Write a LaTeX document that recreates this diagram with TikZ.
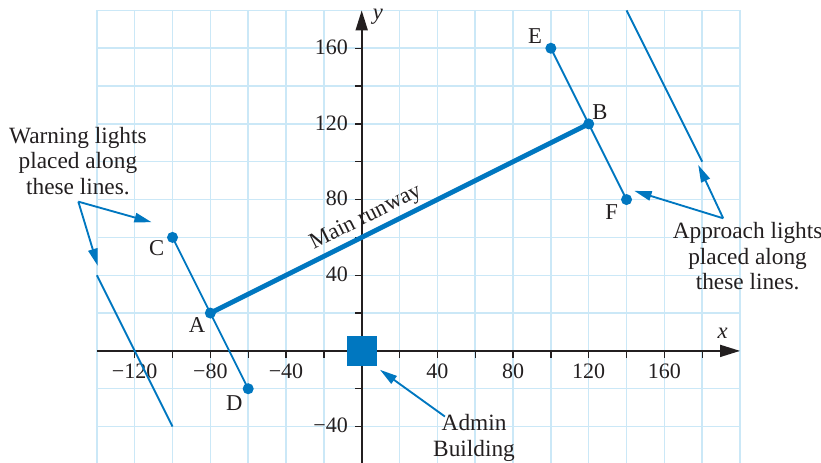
\documentclass[tikz,border=0pt]{standalone}
\usepackage{fontspec}
\setmainfont{Liberation Serif}
\usetikzlibrary{arrows.meta}
\definecolor{gridblue}{HTML}{CBE8F7}
\definecolor{mblue}{HTML}{0077C0}
\definecolor{ink}{HTML}{231F20}
\begin{document}
\begin{tikzpicture}[x=1.419pt,y=1.419pt,
  gridline/.style={draw=gridblue,line width=1.1pt},
  axisline/.style={draw=ink,line width=1.3pt,-{Triangle[length=15pt,width=9pt]}},
  tickmark/.style={draw=ink,line width=1pt},
  runway/.style={draw=mblue,line width=3.6pt},
  lightline/.style={draw=mblue,line width=1.4pt},
  callout/.style={draw=mblue,line width=1.4pt,-{Triangle[length=13pt,width=7pt]}},
  dot/.style={circle,fill=mblue,inner sep=0pt,minimum size=8.3pt},
  ptlabel/.style={font=\fontsize{17}{20}\selectfont,text=ink,inner sep=0pt},
  numlabel/.style={font=\fontsize{16.5}{19}\selectfont,text=ink,inner sep=0pt},
  note/.style={font=\fontsize{17.5}{19.2}\selectfont,align=center,text=ink,inner sep=0pt},
  adminbox/.style={fill=mblue,minimum size=22.5pt,inner sep=0pt}
]
\useasboundingbox (-191.2,-59.2) rectangle (242.8,185.5);
% grid
\foreach \x in {-140,-120,...,200} \draw[gridline] (\x,-60) -- (\x,180);
\foreach \y in {-60,-40,...,180} \draw[gridline] (-140,\y) -- (200,\y);
% axes
\draw[axisline] (-140,0) -- (200,0);
\draw[axisline] (0,-60) -- (0,180);
\foreach \x in {-120,-100,...,-20,20,40,...,180} \draw[tickmark] (\x,0) -- (\x,-3.7);
\foreach \y in {-40,-20,20,40,60,80,100,120,140,160} \draw[tickmark] (0,\y) -- (-3.7,\y);
\foreach \x/\t in {-120/−120,-80/−80,-40/−40,40/40,80/80,120/120,160/160}
  \node[numlabel] (xl\x) at (\x,-11) {\t};
\foreach \y/\t in {160/160,120/120,80/80,40/40,-40/−40}
  \node[numlabel,anchor=east] (yl\y) at (-7.2,\y+0.5) {\t};
\node[ptlabel,font=\fontsize{17}{20}\selectfont\itshape] (ylab) at (8.6,176.5) {y};
\node[ptlabel,font=\fontsize{17}{20}\selectfont\itshape] (xlab) at (190.8,9.4) {x};
% points
\coordinate (pA) at (-80,20);
\coordinate (pB) at (120,120);
\coordinate (pC) at (-100,60);
\coordinate (pD) at (-60,-20);
\coordinate (pE) at (100,160);
\coordinate (pF) at (140,80);
\coordinate (wl1) at (-140,40);
\coordinate (wl2) at (-100,-40);
\coordinate (al1) at (140,180);
\coordinate (al2) at (180,100);
% lines
\draw[lightline] (pC) -- (pD);
\draw[lightline] (pE) -- (pF);
\draw[lightline] (wl1) -- (wl2);
\draw[lightline] (al1) -- (al2);
\draw[runway] (pA) -- node[pos=0.43,sloped,above=2.5pt,ptlabel,text=ink] (rw) {Main runway} (pB);
\foreach \p in {A,B,C,D,E,F} \node[dot] (d\p) at (p\p) {};
% point labels
\node[ptlabel] (lA) at (-87,13.7) {A};
\node[ptlabel] (lB) at (126,126) {B};
\node[ptlabel] (lC) at (-108.4,54.3) {C};
\node[ptlabel] (lD) at (-67.3,-27.6) {D};
\node[ptlabel] (lE) at (91.6,166.5) {E};
\node[ptlabel] (lF) at (132.1,73.6) {F};
% admin building
\node[adminbox] (admin) at (0,0) {};
% notes
\node[note] (warn) at (-150,100.5) {Warning lights\\placed along\\these lines.};
\node[note] (appr) at (204,50) {Approach lights\\placed along\\these lines.};
\node[note] (adm) at (59.4,-46) {Admin\\Building};
% callouts
\coordinate (wsrc) at (-149.8,78.9);
\coordinate (wt1) at (-111,68);
\coordinate (wt2) at (-139.5,44.9);
\draw[callout] (wsrc) -- (wt1);
\draw[callout] (wsrc) -- (wt2);
\coordinate (asrc) at (191.1,70.1);
\coordinate (at1) at (144.1,84.6);
\coordinate (at2) at (177.9,98.3);
\draw[callout] (asrc) -- (at1);
\draw[callout] (asrc) -- (at2);
\coordinate (dsrc) at (44,-34.7);
\coordinate (dt) at (9.7,-10);
\draw[callout] (dsrc) -- (dt);
\end{tikzpicture}
\end{document}
